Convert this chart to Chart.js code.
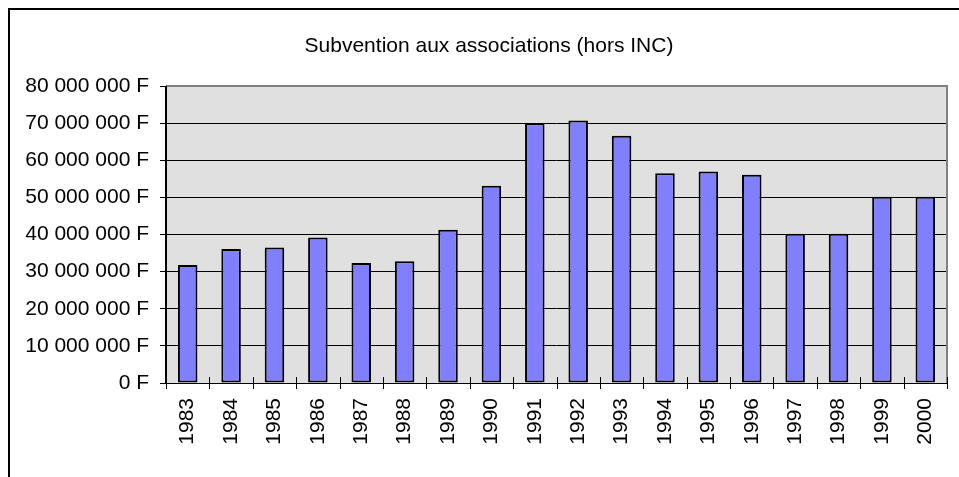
<!DOCTYPE html>
<html>
<head>
<meta charset="utf-8">
<script src="https://cdn.jsdelivr.net/npm/chart.js@4/dist/chart.umd.min.js"></script>
<style>
  html, body { margin: 0; padding: 0; background: #fff; }
  #wrap { width: 959px; height: 477px; }
</style>
</head>
<body>
<div id="wrap"><canvas id="chart" width="959" height="477"></canvas></div>
<script>
var years = ["1983", "1984", "1985", "1986", "1987", "1988", "1989", "1990", "1991",
             "1992", "1993", "1994", "1995", "1996", "1997", "1998", "1999", "2000"];
var subventions = [31800000, 36100000, 36500000, 39200000, 32300000, 32800000, 41300000,
                   53100000, 70000000, 70700000, 66600000, 56500000, 57000000, 56100000,
                   40200000, 40200000, 50200000, 50200000];
var chartTitle = "Subvention aux associations (hors INC)";

var fontName = "'Liberation Sans', Arial, sans-serif";

var formatFrancs = function (value) {
  return String(value).replace(/\B(?=(\d{3})+(?!\d))/g, " ") + " F";
};

// frame, plot background, plot border and the x tick marks
var excelLook = {
  id: "excelLook",
  beforeDraw: function (chart) {
    var ctx = chart.ctx;
    var a = chart.chartArea;
    // the left padding only serves to center the title; let y labels use it
    chart.scales.y.left = 0;
    ctx.save();
    ctx.fillStyle = "#fff";
    ctx.fillRect(0, 0, chart.width, chart.height);
    ctx.strokeStyle = "#000";
    ctx.lineWidth = 2;
    ctx.strokeRect(9, 9, chart.width + 20, chart.height + 20);
    ctx.fillStyle = "#e0e0e0";
    ctx.fillRect(a.left, a.top, a.right - a.left, a.bottom - a.top);
    ctx.restore();
  },
  afterDraw: function (chart) {
    var ctx = chart.ctx;
    var a = chart.chartArea;
    var x = chart.scales.x;
    ctx.save();
    ctx.strokeStyle = "#808080";
    ctx.lineWidth = 2;
    ctx.beginPath();
    ctx.moveTo(a.left, a.top);
    ctx.lineTo(a.right, a.top);
    ctx.lineTo(a.right, a.bottom);
    ctx.stroke();
    ctx.strokeStyle = "#000";
    ctx.beginPath();
    ctx.moveTo(a.left, a.top);
    ctx.lineTo(a.left, a.bottom);
    ctx.stroke();
    ctx.lineWidth = 1;
    ctx.beginPath();
    ctx.moveTo(a.left - 6, a.bottom + 0.5);
    ctx.lineTo(a.right, a.bottom + 0.5);
    var n = years.length;
    for (var i = 0; i <= n; i++) {
      var px;
      if (i === 0) px = a.left;
      else if (i === n) px = a.right;
      else px = (x.getPixelForTick(i - 1) + x.getPixelForTick(i)) / 2;
      px = Math.round(px) + 0.5;
      ctx.moveTo(px, a.bottom - 6);
      ctx.lineTo(px, a.bottom + 6);
    }
    ctx.stroke();
    ctx.restore();
  }
};

var context = document.getElementById("chart").getContext("2d");
var bar = new Chart(context, {
  type: "bar",
  data: {
    labels: years,
    datasets: [
      {
        label: "Subvention",
        data: subventions,
        backgroundColor: "#8080ff",
        borderColor: "#000",
        borderWidth: 2,
        borderSkipped: false,
        barPercentage: 0.45,
        categoryPercentage: 1
      }
    ]
  },
  options: {
    responsive: false,
    animation: false,
    layout: { padding: { left: 31, right: 12, top: 0, bottom: 0 } },
    plugins: {
      legend: { display: false },
      tooltip: { enabled: false },
      title: {
        display: true,
        text: chartTitle,
        color: "#000",
        font: { family: fontName, size: 21, weight: "normal", lineHeight: 1.2 },
        padding: { top: 34, bottom: 26.8 }
      }
    },
    scales: {
      x: {
        afterFit: function (scale) { scale.height = 94; },
        grid: { display: false, drawOnChartArea: false },
        border: { display: false },
        ticks: {
          color: "#000",
          font: { family: fontName, size: 21 },
          minRotation: 90,
          maxRotation: 90,
          padding: 7,
          autoSkip: false
        }
      },
      y: {
        min: 0,
        max: 80000000,
        afterFit: function (scale) { scale.width = 135; },
        grid: {
          color: "#000",
          lineWidth: 1,
          drawTicks: true,
          tickLength: 6,
          tickColor: "#000"
        },
        border: { display: false },
        ticks: {
          stepSize: 10000000,
          color: "#000",
          padding: 11,
          font: { family: fontName, size: 21 },
          callback: function (value) { return formatFrancs(value); }
        }
      }
    }
  },
  plugins: [excelLook]
});
</script>
</body>
</html>
